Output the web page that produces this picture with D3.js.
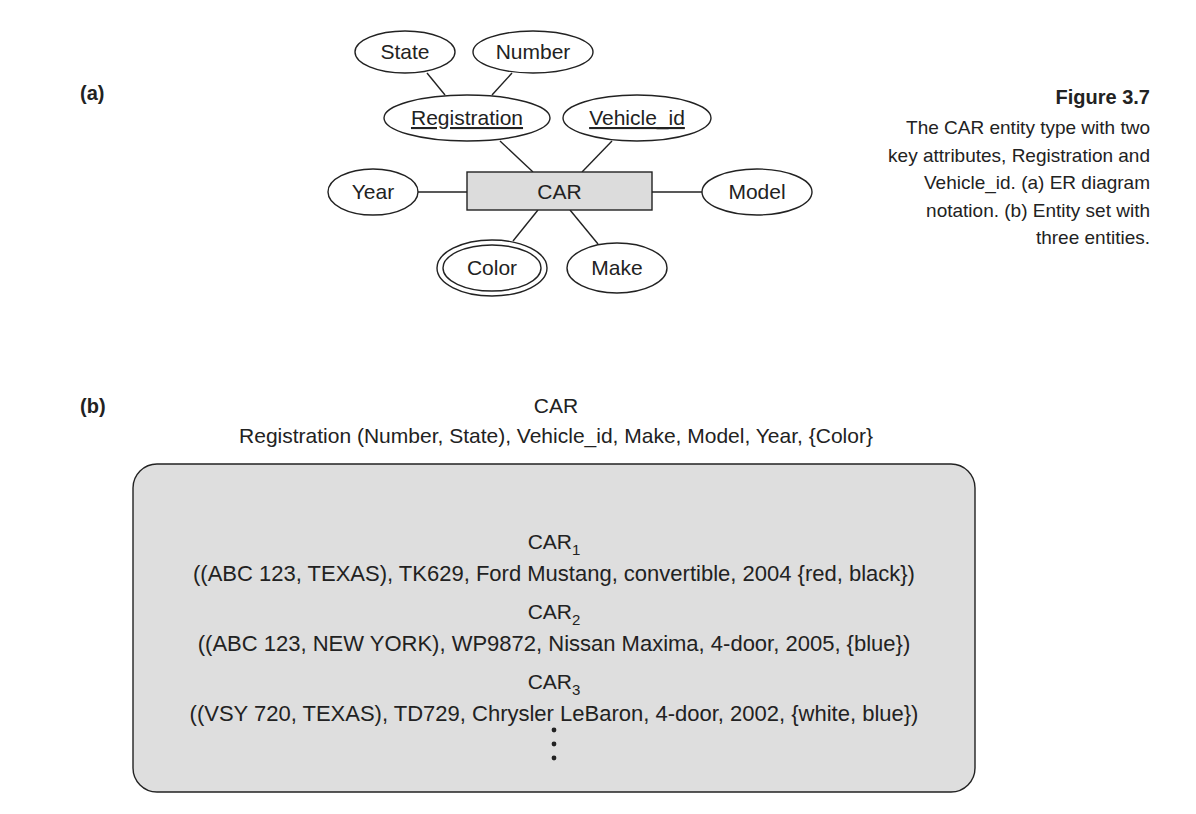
<!DOCTYPE html>
<html><head><meta charset="utf-8">
<script src="https://cdn.jsdelivr.net/npm/d3@7"></script>
<style>body{margin:0;background:#fff}text{font-family:"Liberation Sans",Arial,sans-serif;fill:#222}</style>
</head><body><svg id="c" width="1196" height="814"></svg>
<script>
// attribute ellipses: name, cx, cy, rx, ry, kind
var attrNames = ['State', 'Number', 'Registration', 'Vehicle_id', 'Year', 'Model', 'Color', 'Make'];
var attrCx = [405, 533, 467, 637, 373, 757, 492, 617];
var attrCy = [52, 52, 118, 118, 192, 192, 268, 268];
var attrRx = [50, 60, 83, 74, 45, 55, 55, 50];
var attrRy = [21, 21, 23, 23, 23, 23, 28, 25];
var attrKind = ['plain', 'plain', 'key', 'key', 'plain', 'plain', 'multi', 'plain'];
var links = [[427, 73, 445, 95], [512, 73, 492, 95], [500, 141, 533, 172], [612, 141, 582, 172],
  [418, 192, 467, 192], [652, 192, 702, 192], [538, 210, 513, 241], [570, 210, 598, 244]];
var captionLines = ['The CAR entity type with two', 'key attributes, Registration and',
  'Vehicle_id. (a) ER diagram', 'notation. (b) Entity set with', 'three entities.'];
var entityNames = ['1', '2', '3'];
var entityRows = ['((ABC 123, TEXAS), TK629, Ford Mustang, convertible, 2004 {red, black})',
  '((ABC 123, NEW YORK), WP9872, Nissan Maxima, 4-door, 2005, {blue})',
  '((VSY 720, TEXAS), TD729, Chrysler LeBaron, 4-door, 2002, {white, blue})'];

var svg = d3.select('#c');
var stroke = '#222';

svg.append('text').attr('x', 80).attr('y', 100).attr('font-size', 20).attr('font-weight', 'bold').text('(a)');
svg.append('text').attr('x', 80).attr('y', 413).attr('font-size', 20).attr('font-weight', 'bold').text('(b)');

// caption
svg.append('text').attr('x', 1150).attr('y', 104).attr('text-anchor', 'end')
  .attr('font-size', 20).attr('font-weight', 'bold').text('Figure 3.7');
svg.selectAll('text.cap').data(captionLines).enter().append('text').attr('class', 'cap')
  .attr('x', 1150).attr('y', function (d, i) { return 134 + i * 27.5; })
  .attr('text-anchor', 'end').attr('font-size', 19).text(function (d) { return d; });

// links
svg.selectAll('line.lk').data(links).enter().append('line').attr('class', 'lk')
  .attr('x1', function (d) { return d[0]; }).attr('y1', function (d) { return d[1]; })
  .attr('x2', function (d) { return d[2]; }).attr('y2', function (d) { return d[3]; })
  .attr('stroke', stroke).attr('stroke-width', 1.4);

// entity box
svg.append('rect').attr('x', 467).attr('y', 172).attr('width', 185).attr('height', 38)
  .attr('fill', '#dcdcdc').attr('stroke', stroke).attr('stroke-width', 1.4);
svg.append('text').attr('x', 559.5).attr('y', 199).attr('text-anchor', 'middle').attr('font-size', 21).text('CAR');

// attributes
var g = svg.selectAll('g.attr').data(attrNames).enter().append('g').attr('class', 'attr');
g.append('ellipse')
  .attr('cx', function (d, i) { return attrCx[i]; }).attr('cy', function (d, i) { return attrCy[i]; })
  .attr('rx', function (d, i) { return attrRx[i]; }).attr('ry', function (d, i) { return attrRy[i]; })
  .attr('fill', '#fff').attr('stroke', stroke).attr('stroke-width', 1.4);
g.filter(function (d, i) { return attrKind[i] === 'multi'; }).append('ellipse')
  .attr('cx', function (d) { return attrCx[attrNames.indexOf(d)]; })
  .attr('cy', function (d) { return attrCy[attrNames.indexOf(d)]; })
  .attr('rx', function (d) { return attrRx[attrNames.indexOf(d)] - 6; })
  .attr('ry', function (d) { return attrRy[attrNames.indexOf(d)] - 5; })
  .attr('fill', 'none').attr('stroke', stroke).attr('stroke-width', 1.4);
g.append('text')
  .attr('x', function (d, i) { return attrCx[i]; }).attr('y', function (d, i) { return attrCy[i] + 7; })
  .attr('text-anchor', 'middle').attr('font-size', 21)
  .attr('text-decoration', function (d, i) { return attrKind[i] === 'key' ? 'underline' : null; })
  .text(function (d) { return d; });

// (b) header
svg.append('text').attr('x', 556).attr('y', 413).attr('text-anchor', 'middle').attr('font-size', 21).text('CAR');
svg.append('text').attr('x', 556).attr('y', 443).attr('text-anchor', 'middle').attr('font-size', 21)
  .text('Registration (Number, State), Vehicle_id, Make, Model, Year, {Color}');

svg.append('rect').attr('x', 133).attr('y', 464).attr('width', 842).attr('height', 328).attr('rx', 24)
  .attr('fill', '#dedede').attr('stroke', stroke).attr('stroke-width', 1.4);

var eg = svg.selectAll('g.ent').data(entityRows).enter().append('g').attr('class', 'ent');
var head = eg.append('text').attr('x', 554).attr('y', function (d, i) { return 549 + i * 70; })
  .attr('text-anchor', 'middle').attr('font-size', 21);
head.append('tspan').text('CAR');
head.append('tspan').attr('dy', 6).attr('font-size', 15).text(function (d, i) { return entityNames[i]; });
eg.append('text').attr('x', 554).attr('y', function (d, i) { return 581 + i * 70; })
  .attr('text-anchor', 'middle').attr('font-size', 22).text(function (d) { return d; });

svg.selectAll('circle.dot').data([730, 744, 758]).enter().append('circle').attr('class', 'dot')
  .attr('cx', 554).attr('cy', function (d) { return d; }).attr('r', 2.4).attr('fill', stroke);
</script></body></html>
